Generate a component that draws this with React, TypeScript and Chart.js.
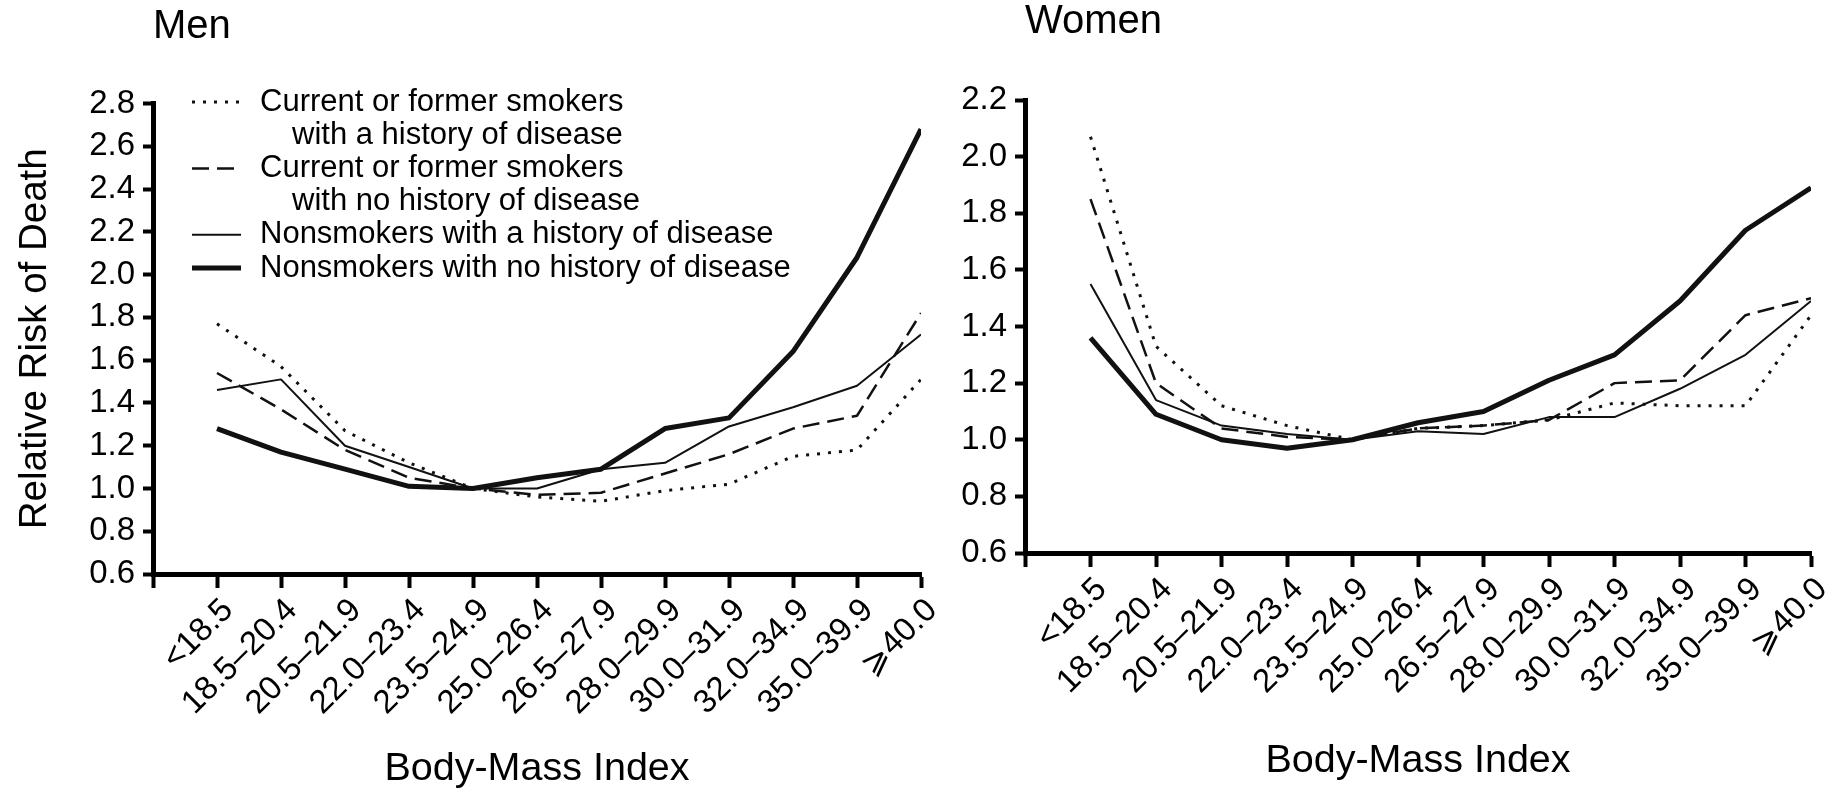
import React, { useEffect, useRef } from "react";
import { Chart, registerables } from "chart.js";

Chart.register(...registerables);

const categories = [
  "<18.5",
  "18.5–20.4",
  "20.5–21.9",
  "22.0–23.4",
  "23.5–24.9",
  "25.0–26.4",
  "26.5–27.9",
  "28.0–29.9",
  "30.0–31.9",
  "32.0–34.9",
  "35.0–39.9",
  "⩾40.0",
];

const seriesNames = [
  ["Current or former smokers", "with a history of disease"],
  ["Current or former smokers", "with no history of disease"],
  ["Nonsmokers with a history of disease"],
  ["Nonsmokers with no history of disease"],
];

// Men
const menSmokersHistory = [1.77, 1.57, 1.27, 1.12, 1.0, 0.96, 0.94, 0.99, 1.02, 1.15, 1.18, 1.51];
const menSmokersNoHistory = [1.54, 1.37, 1.18, 1.05, 1.0, 0.97, 0.98, 1.07, 1.16, 1.28, 1.34, 1.82];
const menNonsmokersHistory = [1.46, 1.51, 1.2, 1.1, 1.0, 1.0, 1.09, 1.12, 1.29, 1.38, 1.48, 1.72];
const menNonsmokersNoHistory = [1.28, 1.17, 1.09, 1.01, 1.0, 1.05, 1.09, 1.28, 1.33, 1.64, 2.08, 2.68];

// Women
const womenSmokersHistory = [2.07, 1.33, 1.12, 1.05, 1.0, 1.04, 1.05, 1.07, 1.13, 1.12, 1.12, 1.44];
const womenSmokersNoHistory = [1.85, 1.2, 1.04, 1.01, 1.0, 1.04, 1.05, 1.07, 1.2, 1.21, 1.44, 1.5];
const womenNonsmokersHistory = [1.55, 1.14, 1.05, 1.02, 1.0, 1.03, 1.02, 1.08, 1.08, 1.18, 1.3, 1.49];
const womenNonsmokersNoHistory = [1.36, 1.09, 1.0, 0.97, 1.0, 1.06, 1.1, 1.21, 1.3, 1.49, 1.74, 1.89];

const menYTicks = { min: 0.6, max: 2.8, step: 0.2 };
const womenYTicks = { min: 0.6, max: 2.2, step: 0.2 };

const FONT = '"Liberation Sans", Arial, Helvetica, sans-serif';
const INK = "#111";

const styles = [
  { borderDash: [3, 8], borderWidth: 3 },
  { borderDash: [17, 8], borderWidth: 2.5 },
  { borderDash: [] as number[], borderWidth: 2 },
  { borderDash: [] as number[], borderWidth: 5 },
];

function toPoints(values: number[]) {
  return values.map((y, i) => ({ x: i + 1, y }));
}

const legendPlugin = {
  id: "customLegend",
  afterDraw(chart: any, _args: any, opts: any) {
    if (!opts || !opts.show) return;
    const { ctx, chartArea } = chart;
    ctx.save();
    ctx.font = `31px ${FONT}`;
    ctx.textBaseline = "middle";
    ctx.textAlign = "left";
    ctx.fillStyle = "#000";
    let line = 0;
    chart.data.datasets.forEach((ds: any, i: number) => {
      const lines = seriesNames[i];
      const y = chartArea.top + opts.y0 + line * opts.gap;
      ctx.beginPath();
      ctx.setLineDash(ds.borderDash || []);
      ctx.lineWidth = ds.borderWidth;
      ctx.strokeStyle = ds.borderColor;
      ctx.lineCap = "butt";
      ctx.moveTo(chartArea.left + opts.sx0, y);
      ctx.lineTo(chartArea.left + opts.sx1, y);
      ctx.stroke();
      ctx.setLineDash([]);
      lines.forEach((t: string, j: number) => {
        ctx.fillText(t, chartArea.left + (j === 0 ? opts.tx : opts.tx2), y + j * opts.gap);
      });
      line += lines.length;
    });
    ctx.restore();
  },
};

const panelTitlePlugin = {
  id: "panelTitle",
  afterDraw(chart: any, _args: any, opts: any) {
    if (!opts || !opts.text) return;
    const { ctx, chartArea } = chart;
    ctx.save();
    ctx.font = `40px ${FONT}`;
    ctx.textBaseline = "middle";
    ctx.textAlign = "left";
    ctx.fillStyle = "#000";
    ctx.fillText(opts.text, chartArea.left + opts.dx, opts.y);
    ctx.restore();
  },
};

function makeConfig(p: {
  series: number[][];
  yt: { min: number; max: number; step: number };
  title: string;
  titleY: number;
  yTitle: string | null;
  yWidth: number;
  xHeight: number;
  padTop: number;
  padRight: number;
  xTitlePadBottom: number;
  showLegend: boolean;
}) {
  return {
    type: "line" as const,
    data: {
      datasets: p.series.map((vals, i) => ({
        label: seriesNames[i].join(" "),
        data: toPoints(vals),
        borderColor: INK,
        backgroundColor: INK,
        borderWidth: styles[i].borderWidth,
        borderDash: styles[i].borderDash,
        pointRadius: 0,
        tension: 0,
        fill: false,
        borderJoinStyle: "round" as const,
        order: 3 - i,
      })),
    },
    options: {
      animation: false as const,
      responsive: true,
      maintainAspectRatio: false,
      layout: { padding: { left: 0, top: p.padTop, right: p.padRight, bottom: 0 } },
      plugins: {
        legend: { display: false },
        tooltip: { enabled: false },
        customLegend: { show: p.showLegend, y0: -1.5, gap: 33.2, sx0: 39, sx1: 88, tx: 107, tx2: 139 },
        panelTitle: { text: p.title, dx: 0, y: p.titleY },
      },
      scales: {
        x: {
          type: "linear" as const,
          min: 0,
          max: 12,
          afterBuildTicks: (s: any) => {
            s.ticks = Array.from({ length: 13 }, (_, i) => ({ value: i }));
          },
          afterFit: (s: any) => {
            s.height = p.xHeight;
            s.paddingLeft = 0;
            s.paddingRight = 0;
          },
          ticks: {
            autoSkip: false,
            maxRotation: 45,
            minRotation: 45,
            padding: 3,
            labelOffset: 11,
            color: "#000",
            font: { family: FONT, size: 33 },
            callback: (v: any) => (v >= 1 && v <= 12 ? categories[v - 1] : ""),
          },
          grid: {
            display: true,
            drawOnChartArea: false,
            drawTicks: true,
            tickLength: 14,
            tickWidth: 4,
            tickColor: "#000",
          },
          border: { display: true, color: "#000", width: 5 },
          title: {
            display: true,
            text: "Body-Mass Index",
            color: "#000",
            font: { family: FONT, size: 39.5 },
            padding: { top: 0, bottom: p.xTitlePadBottom },
          },
        },
        y: {
          type: "linear" as const,
          min: p.yt.min,
          max: p.yt.max,
          afterBuildTicks: (s: any) => {
            const n = Math.round((p.yt.max - p.yt.min) / p.yt.step);
            s.ticks = Array.from({ length: n + 1 }, (_, i) => ({ value: +(p.yt.min + i * p.yt.step).toFixed(2) }));
          },
          afterFit: (s: any) => {
            s.width = p.yWidth;
            s.paddingTop = 0;
            s.paddingBottom = 0;
          },
          ticks: {
            padding: 8,
            color: "#000",
            font: { family: FONT, size: 33 },
            callback: (v: any) => Number(v).toFixed(1),
          },
          grid: {
            display: true,
            drawOnChartArea: false,
            drawTicks: true,
            tickLength: 10,
            tickWidth: 4,
            tickColor: "#000",
          },
          border: { display: true, color: "#000", width: 5 },
          title: {
            display: !!p.yTitle,
            text: p.yTitle || "",
            color: "#000",
            font: { family: FONT, size: 38.5 },
            padding: { top: 12, bottom: 0 },
          },
        },
      },
    },
    plugins: [legendPlugin, panelTitlePlugin],
  };
}

export default function App() {
  const menRef = useRef<HTMLCanvasElement>(null);
  const womenRef = useRef<HTMLCanvasElement>(null);

  useEffect(() => {
    const men = new Chart(
      menRef.current as HTMLCanvasElement,
      makeConfig({
        series: [menSmokersHistory, menSmokersNoHistory, menNonsmokersHistory, menNonsmokersNoHistory],
        yt: menYTicks,
        title: "Men",
        titleY: 27,
        yTitle: "Relative Risk of Death",
        yWidth: 153,
        xHeight: 219,
        padTop: 103.5,
        padRight: 39,
        xTitlePadBottom: 0,
        showLegend: true,
      }) as any
    );
    const women = new Chart(
      womenRef.current as HTMLCanvasElement,
      makeConfig({
        series: [womenSmokersHistory, womenSmokersNoHistory, womenNonsmokersHistory, womenNonsmokersNoHistory],
        yt: womenYTicks,
        title: "Women",
        titleY: 22,
        yTitle: null,
        yWidth: 95,
        xHeight: 240,
        padTop: 100,
        padRight: 33,
        xTitlePadBottom: 8,
        showLegend: false,
      }) as any
    );
    return () => {
      men.destroy();
      women.destroy();
    };
  }, []);

  return (
    <div style={{ position: "fixed", left: 0, top: 0, width: 1844, height: 793, background: "#fff" }}>
      <div style={{ position: "absolute", left: 0, top: 0, width: 960, height: 793 }}>
        <canvas ref={menRef} />
      </div>
      <div style={{ position: "absolute", left: 930, top: 0, width: 914, height: 793 }}>
        <canvas ref={womenRef} />
      </div>
    </div>
  );
}
